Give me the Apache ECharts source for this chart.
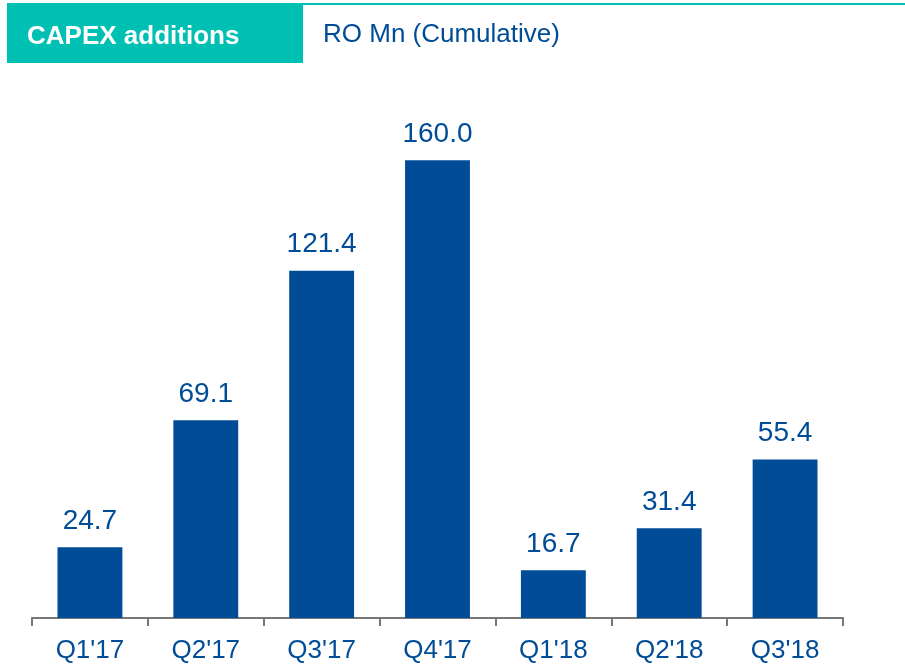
<!DOCTYPE html>
<html>
<head>
<meta charset="utf-8">
<style>
    html, body { margin: 0; padding: 0; background: #fff; }
    #chart { width: 905px; height: 664px; }
</style>
</head>
<body>
<div id="chart"></div>
<script src="https://cdn.jsdelivr.net/npm/echarts@6/dist/echarts.min.js"></script>
<script>
    // data
    var quarters = ["Q1'17", "Q2'17", "Q3'17", "Q4'17", "Q1'18", "Q2'18", "Q3'18"];
    var capex = [24.7, 69.1, 121.4, 160.0, 16.7, 31.4, 55.4];

    var teal = '#00BFB3';
    var blue = '#004C97';
    var font = '"Liberation Sans", Arial, sans-serif';

    var myChart = echarts.init(document.getElementById('chart'));
    myChart.setOption({
        animation: false,
        grid: { left: 32, right: 62, top: 103, bottom: 46 },
        // header strip
        graphic: [
            { type: 'rect', shape: { x: 7, y: 3, width: 898, height: 2 }, style: { fill: teal } },
            { type: 'rect', shape: { x: 7, y: 5, width: 296, height: 58 }, style: { fill: teal } },
            {
                type: 'text', left: 27, top: 24,
                style: { text: 'CAPEX additions', fill: '#fff', font: 'bold 26px ' + font }
            },
            {
                type: 'text', left: 323, top: 22,
                style: { text: 'RO Mn (Cumulative)', fill: blue, font: '26px ' + font }
            }
        ],
        xAxis: {
            type: 'category',
            data: quarters,
            axisLine: { lineStyle: { color: '#777', width: 2 } },
            axisTick: { show: true, length: 8, lineStyle: { color: '#777', width: 2 } },
            axisLabel: { color: blue, fontSize: 26, fontFamily: font, margin: 20 }
        },
        yAxis: {
            type: 'value',
            min: 0,
            max: 180,
            show: false,
            splitLine: { show: false }
        },
        series: [{
            type: 'bar',
            data: capex,
            barWidth: '56%',
            itemStyle: { color: blue },
            label: {
                show: true,
                position: 'top',
                distance: 12,
                color: blue,
                fontSize: 28,
                fontFamily: font,
                formatter: function (p) { return p.value.toFixed(1); }
            }
        }]
    });
</script>
</body>
</html>
